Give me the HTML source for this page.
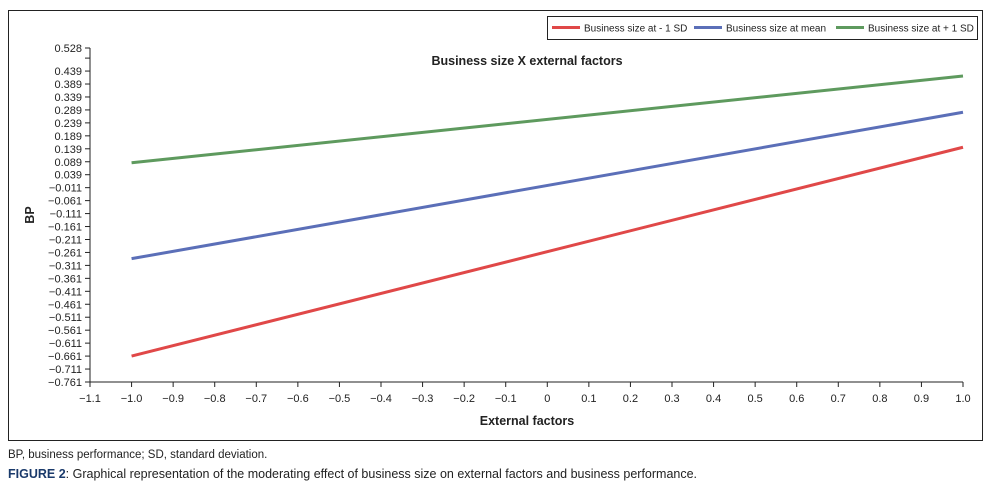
<!DOCTYPE html>
<html><head><meta charset="utf-8"><style>
body{margin:0;background:#fff;font-family:"Liberation Sans",sans-serif;}
svg text{font-family:"Liberation Sans",sans-serif;}
.cap{position:absolute;left:8px;font-size:11.5px;color:#222;}
</style></head><body>
<div style="position:relative;width:995px;height:496px;">
<svg width="995" height="445" style="position:absolute;left:0;top:0">
<rect x="8.5" y="10.5" width="974" height="430" fill="none" stroke="#222"/>
<g id="plot"></g>
</svg>
<div class="cap" style="top:449px">BP, business performance; SD, standard deviation.</div>
<div class="cap" style="top:467px;font-size:12.5px"><b style="color:#1a3a6b">FIGURE 2</b>: Graphical representation of the moderating effect of business size on external factors and business performance.</div>
</div>
<script>
const xTicks=[-1.1,-1.0,-0.9,-0.8,-0.7,-0.6,-0.5,-0.4,-0.3,-0.2,-0.1,0,0.1,0.2,0.3,0.4,0.5,0.6,0.7,0.8,0.9,1.0];
const yTicks=[0.528,0.489,0.439,0.389,0.339,0.289,0.239,0.189,0.139,0.089,0.039,-0.011,-0.061,-0.111,-0.161,-0.211,-0.261,-0.311,-0.361,-0.411,-0.461,-0.511,-0.561,-0.611,-0.661,-0.711,-0.761];
const yLabeled=[true,false,true,true,true,true,true,true,true,true,true,true,true,true,true,true,true,true,true,true,true,true,true,true,true,true,true];
const seriesNames=["Business size at - 1 SD","Business size at mean","Business size at + 1 SD"];
const seriesColors=["#e04848","#5b6fb8","#5e9a5e"];
const xVals=[-1.0,1.0];
const lowSD=[-0.661,0.145];
const meanSD=[-0.285,0.28];
const highSD=[0.085,0.42];
const seriesVals=[lowSD,meanSD,highSD];
const NS="http://www.w3.org/2000/svg";
const g=document.getElementById('plot');
const X0=90,X1=963,Y0=48,Y1=382,XMIN=-1.1,XMAX=1.0,YMIN=-0.761,YMAX=0.528;
const xs=v=>X0+(v-XMIN)/(XMAX-XMIN)*(X1-X0);
const ys=v=>Y0+(YMAX-v)/(YMAX-YMIN)*(Y1-Y0);
function mk(t,a,txt){const e=document.createElementNS(NS,t);for(const k in a)e.setAttribute(k,a[k]);if(txt!=null)e.textContent=txt;g.appendChild(e);return e;}
let e=mk('line',{x1:X0,y1:Y0,x2:X0,y2:Y1,stroke:'#222'});


e=mk('line',{x1:X0,y1:Y1,x2:X1,y2:Y1,stroke:'#222'});


yTicks.forEach((v,i)=>{const y=ys(v);
 mk('line',{x1:X0-5,y1:y,x2:X0,y2:y,stroke:'#222'});
 if(yLabeled[i]){const t=mk('text',{x:X0-8,y:y+4,'text-anchor':'end','font-size':11,fill:'#222'},String(v).replace('-','\u2212').replace(/^(\u2212?)0?\./,'$10.'));
 
 }
});
xTicks.forEach(v=>{const x=xs(v);
 mk('line',{x1:x,y1:Y1,x2:x,y2:Y1+5,stroke:'#222'});
 const s=v===0?'0':(v<0?'\u2212':'')+Math.abs(v).toFixed(1);
 const t=mk('text',{x:x,y:Y1+20,'text-anchor':'middle','font-size':11,fill:'#222'},s);
 
 
});
seriesVals.forEach((vals,i)=>{
 const pts=vals.map((v,j)=>xs(xVals[j])+','+ys(v)).join(' ');
 const l=mk('polyline',{points:pts,fill:'none',stroke:seriesColors[i],'stroke-width':3});
 
 
});
e=mk('text',{x:527,y:65,'text-anchor':'middle','font-size':12.5,'font-weight':'bold',fill:'#222'},'Business size X external factors');


e=mk('text',{x:527,y:425,'text-anchor':'middle','font-size':12.5,'font-weight':'bold',fill:'#222'},'External factors');


e=mk('text',{x:0,y:0,'text-anchor':'middle','font-size':12.5,'font-weight':'bold',fill:'#222',transform:'translate(34,215) rotate(-90)'},'BP');


e=mk('rect',{x:547.5,y:16.5,width:430,height:23,fill:'#fff',stroke:'#222'});


const lx=[552,694,836];
seriesNames.forEach((n,i)=>{
 mk('line',{x1:lx[i],y1:27.5,x2:lx[i]+28,y2:27.5,stroke:seriesColors[i],'stroke-width':3});
 const t=mk('text',{x:lx[i]+32,y:31.5,'font-size':10,fill:'#222'},n);
 
 
});
</script>
</body></html>
